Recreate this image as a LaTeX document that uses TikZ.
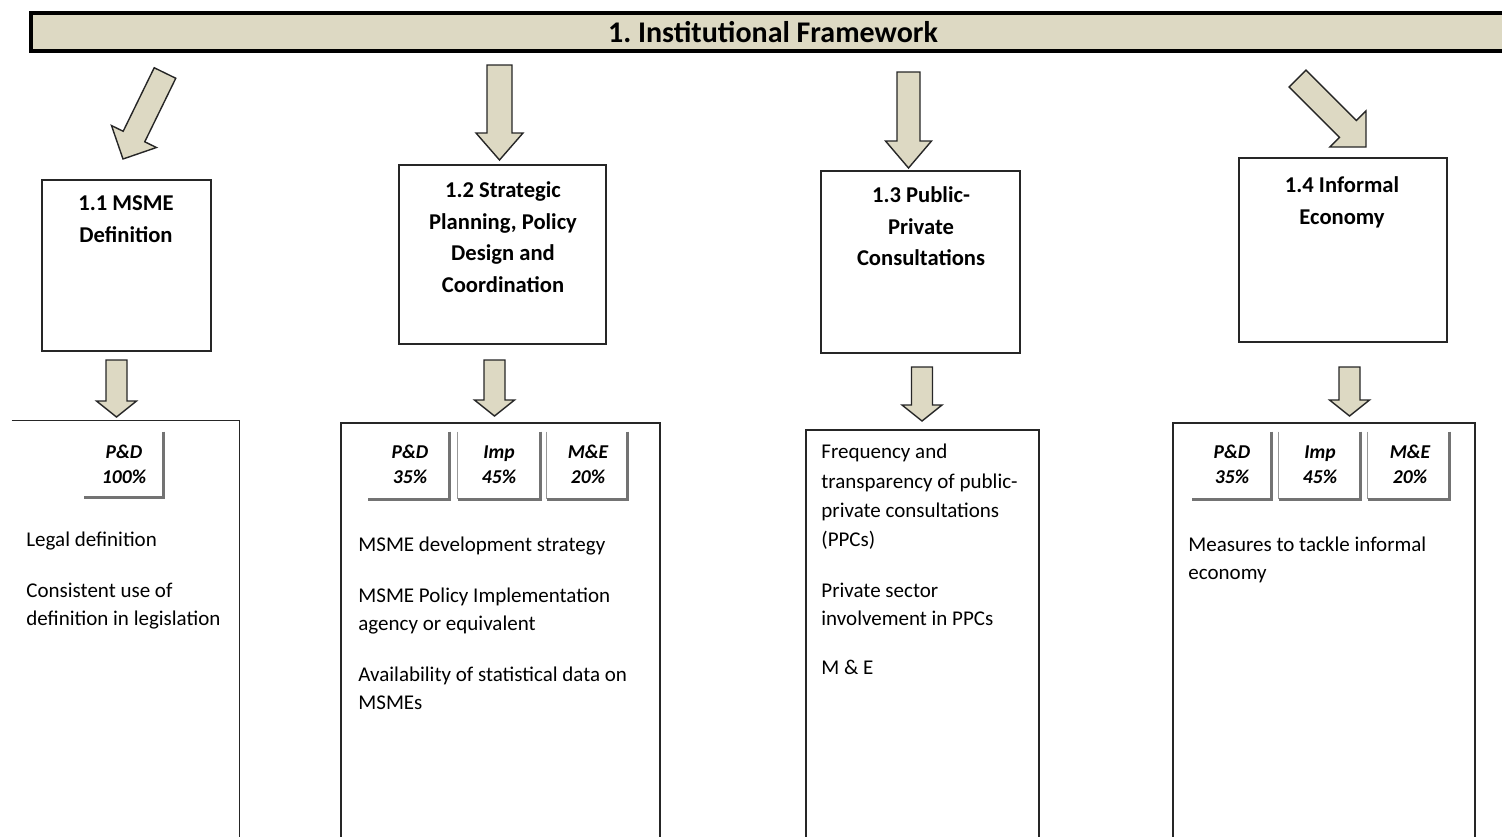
\documentclass[tikz,border=0pt]{standalone}
\usepackage{fontspec}
\setmainfont{Carlito}
\usetikzlibrary{calc,fit}

\definecolor{framefill}{HTML}{DDD9C3}

\tikzset{
  bar/.style={draw=black, line width=1.8pt, fill=framefill, inner sep=0pt},
  bartxt/.style={font=\fontsize{15}{17}\selectfont\bfseries, inner sep=0pt},
  box/.style={draw=black!85, line width=0.75pt, inner sep=0pt},
  ttl/.style={font=\fontsize{11.3}{15.8}\selectfont\bfseries, align=center, inner sep=0pt, anchor=north},
  txt/.style={font=\fontsize{10.5}{14}\selectfont, align=left, inner sep=0pt, anchor=north west},
  tab/.style={inner sep=0pt},
  tabtxt/.style={inner sep=0pt, font=\fontsize{9.8}{12.5}\selectfont\bfseries\itshape, align=center, anchor=north},
  shadow/.style={draw=black!55, line width=1.1pt},
  tabedge/.style={draw=black!40, line width=0.6pt},
  bigarrow/.style={draw=black!85, line width=0.7pt, fill=framefill, line join=miter},
}

% fat block arrow: tail, tip, shaft width, head width, head length (px)
\newcommand{\fatarrow}[5]{%
  \pgfmathsetlengthmacro{\fas}{#3*0.25}%
  \pgfmathsetlengthmacro{\fah}{#4*0.25}%
  \pgfmathsetlengthmacro{\fal}{#5*0.5}%
  \coordinate (fa-h) at ($(#2)!\fal!(#1)$);
  \draw[bigarrow] ($(#1)!\fas!90:(#2)$) -- ($(fa-h)!\fas!90:(#2)$)
    -- ($(fa-h)!\fah!90:(#2)$) -- (#2) -- ($(fa-h)!\fah!-90:(#2)$)
    -- ($(fa-h)!\fas!-90:(#2)$) -- ($(#1)!\fas!-90:(#2)$) -- cycle;}

\begin{document}
\begin{tikzpicture}[x=0.5pt,y=-0.5pt]
\useasboundingbox (0,0) rectangle (1502,836);

% Title bar
\node[bar, fit={(31,13) (1512,51)}] (title) {};
\node[bartxt] (titletxt) at (773,32) {1.\ Institutional Framework};

% Main boxes
\node[box, fit={(42,180) (211,351)}] (b1) {};
\node[box, fit={(399,165) (606,344)}] (b2) {};
\node[box, fit={(821,171) (1020,353)}] (b3) {};
\node[box, fit={(1239,158) (1447,342)}] (b4) {};

\node[ttl] (b1t) at (126,195.5) {1.1 MSME\\Definition};
\node[ttl] (b2t) at (503,181.5) {1.2 Strategic\\Planning, Policy\\Design and\\Coordination};
\node[ttl] (b3t) at (921,186.5) {1.3 Public-\\Private\\Consultations};
\node[ttl] (b4t) at (1342,176.5) {1.4 Informal\\Economy};

% Arrows from the bar
\coordinate (a1s) at (165,73);     \coordinate (a1e) at (123,159);
\coordinate (a2s) at (499.5,65);   \coordinate (a2e) at (499.5,160);
\coordinate (a3s) at (908.5,72);   \coordinate (a3e) at (908.5,168);
\coordinate (a4s) at (1297.5,78.5); \coordinate (a4e) at (1366,147);
\fatarrow{a1s}{a1e}{24}{50}{25}
\fatarrow{a2s}{a2e}{25}{47}{27}
\fatarrow{a3s}{a3e}{23}{46}{27}
\fatarrow{a4s}{a4e}{24}{51}{25.5}

% Lower boxes
\node[fit={(12,421) (239,850)}, inner sep=0pt] (l1) {};
\draw[box] (l1.north west) -- (l1.north east) -- (l1.south east);
\node[box, fit={(341,423) (660,850)}] (l2) {};
\node[box, fit={(806,430) (1039,850)}] (l3) {};
\node[box, fit={(1173,423) (1475,850)}] (l4) {};

% Small arrows
\coordinate (s1s) at (116.5,360);  \coordinate (s1e) at (116.5,417);
\coordinate (s2s) at (494.5,360);  \coordinate (s2e) at (494.5,416);
\coordinate (s3s) at (922,367);    \coordinate (s3e) at (922,421);
\coordinate (s4s) at (1349.5,367); \coordinate (s4e) at (1349.5,416);
\fatarrow{s1s}{s1e}{21}{40}{16}
\fatarrow{s2s}{s2e}{21}{40}{16}
\fatarrow{s3s}{s3e}{21}{40}{16}
\fatarrow{s4s}{s4e}{21}{40}{16}

% Weight tabs
\node[tab, fit={(84,432) (163,497)}] (t11) {};
\node[tab, fit={(368,432) (449,499)}] (t21) {};
\node[tab, fit={(458,432) (540,499)}] (t22) {};
\node[tab, fit={(547,432) (627,499)}] (t23) {};
\node[tab, fit={(1192,432) (1271,499)}] (t41) {};
\node[tab, fit={(1279,432) (1360,499)}] (t42) {};
\node[tab, fit={(1368,432) (1449,499)}] (t43) {};
\foreach \t in {t11,t21,t22,t23,t41,t42,t43}
  \draw[shadow] (\t.north east) -- (\t.south east) -- (\t.south west);
\foreach \t in {t22,t23,t42,t43}
  \draw[tabedge] (\t.north west) -- (\t.south west);

\node[tabtxt] (w11) at (124,444.5) {P\&D\\100\%};
\node[tabtxt] (w21) at (410,444.5) {P\&D\\35\%};
\node[tabtxt] (w22) at (499,444.5) {\vphantom{\&}Imp\\45\%};
\node[tabtxt] (w23) at (588,444.5) {M\&E\\20\%};
\node[tabtxt] (w41) at (1232,444.5) {P\&D\\35\%};
\node[tabtxt] (w42) at (1320,444.5) {\vphantom{\&}Imp\\45\%};
\node[tabtxt] (w43) at (1410,444.5) {M\&E\\20\%};

% Indicators
\node[txt] (p11) at (26,532) {Legal definition};
\node[txt] (p12) at (26,583) {Consistent use of\\definition in legislation};
\node[txt] (p21) at (358,537) {MSME development strategy};
\node[txt] (p22) at (358,588) {MSME Policy Implementation\\agency or equivalent};
\node[txt] (p23) at (358,667) {Availability of statistical data on\\MSMEs};
\node[txt, font=\fontsize{10.5}{14.6}\selectfont] (p31) at (821,444) {Frequency and\\transparency of public-\\private consultations\\(PPCs)};
\node[txt] (p32) at (821,583) {Private sector\\involvement in PPCs};
\node[txt] (p33) at (821,660) {M \& E};
\node[txt] (p41) at (1188,537) {Measures to tackle informal\\economy};
\end{tikzpicture}
\end{document}
